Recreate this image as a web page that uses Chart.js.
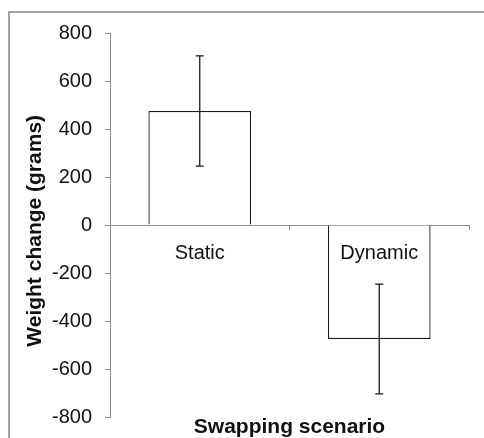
<!DOCTYPE html>
<html lang="en">
  <head>
    <meta charset="UTF-8">
    <script src="https://cdn.jsdelivr.net/npm/chart.js"></script>
    <style>
      body { margin: 0; background: #fff; overflow: hidden; }
      #frame {
        position: absolute; left: 8px; top: 11px;
        width: 600px; height: 600px;
        border-top: 2px solid #a0a0a0;
        border-left: 2px solid #a0a0a0;
      }
      #weightChart { position: absolute; left: 0; top: 0; }
    </style>
  </head>
  <body>
    <div id="frame"></div>
    <canvas id="weightChart" width="484" height="438"></canvas>

    <script>
      // data
      const scenarios = ['Static', 'Dynamic'];
      const weightChange = [475, -475];
      const weightError = [230, 229];
      const yTicks = [-800, -600, -400, -200, 0, 200, 400, 600, 800];

      const axisGray = '#8c8c8c';
      const fontFamily = '"Liberation Sans", Arial, sans-serif';

      // simple +/- error bars drawn on top of the bars
      const errorBars = {
        id: 'errorBars',
        afterDatasetsDraw(chart) {
          const ctx = chart.ctx;
          const y = chart.scales.y;
          const meta = chart.getDatasetMeta(0);
          ctx.save();
          ctx.strokeStyle = '#1a1a1a';
          ctx.lineWidth = 1.3;
          meta.data.forEach(function (bar, i) {
            const v = weightChange[i];
            const top = y.getPixelForValue(v + weightError[i]);
            const bottom = y.getPixelForValue(v - weightError[i]);
            ctx.beginPath();
            ctx.moveTo(bar.x, top);
            ctx.lineTo(bar.x, bottom);
            ctx.moveTo(bar.x - 4, top);
            ctx.lineTo(bar.x + 4, top);
            ctx.moveTo(bar.x - 4, bottom);
            ctx.lineTo(bar.x + 4, bottom);
            ctx.stroke();
          });
          ctx.restore();
        }
      };

      const ctx = document.getElementById('weightChart').getContext('2d');

      new Chart(ctx, {
        type: 'bar',
        data: {
          labels: scenarios,
          datasets: [{
            data: weightChange,
            backgroundColor: '#ffffff',
            borderColor: '#1a1a1a',
            borderWidth: 1.3,
            barPercentage: 1,
            categoryPercentage: 0.572
          }]
        },
        options: {
          responsive: false,
          animation: false,
          layout: { padding: { top: 33, right: 15, bottom: 0, left: 0 } },
          plugins: {
            legend: { display: false },
            tooltip: { enabled: false },
            title: {
              display: true,
              position: 'bottom',
              fullSize: false,
              text: 'Swapping scenario',
              color: '#111',
              font: { family: fontFamily, size: 21, weight: 'bold', lineHeight: 1.0 },
              padding: { top: 0, bottom: 0 }
            }
          },
          scales: {
            x: {
              position: { y: 0 },
              grid: { drawOnChartArea: false, drawTicks: true, tickLength: 4, color: axisGray },
              border: { color: axisGray, width: 1 },
              ticks: { z: 1, color: '#111', padding: 12, autoSkip: false, maxRotation: 0, font: { family: fontFamily, size: 20 } }
            },
            y: {
              min: -800,
              max: 800,
              afterFit(scale) {
                scale.width = 110;
                scale.paddingTop = 0;
                scale.paddingBottom = 0;
              },
              afterBuildTicks(scale) { scale.ticks = yTicks.map(v => ({ value: v })); },
              grid: { drawOnChartArea: false, drawTicks: true, tickLength: 5, color: axisGray },
              border: { color: axisGray, width: 1 },
              ticks: { color: '#111', padding: 13, font: { family: fontFamily, size: 20 } },
              title: {
                display: true,
                text: 'Weight change (grams)  ',
                color: '#111',
                font: { family: fontFamily, size: 21, weight: 'bold', lineHeight: 1.2 },
                padding: { top: 23, bottom: 0 }
              }
            }
          }
        },
        plugins: [errorBars]
      });
    </script>
  </body>
</html>
